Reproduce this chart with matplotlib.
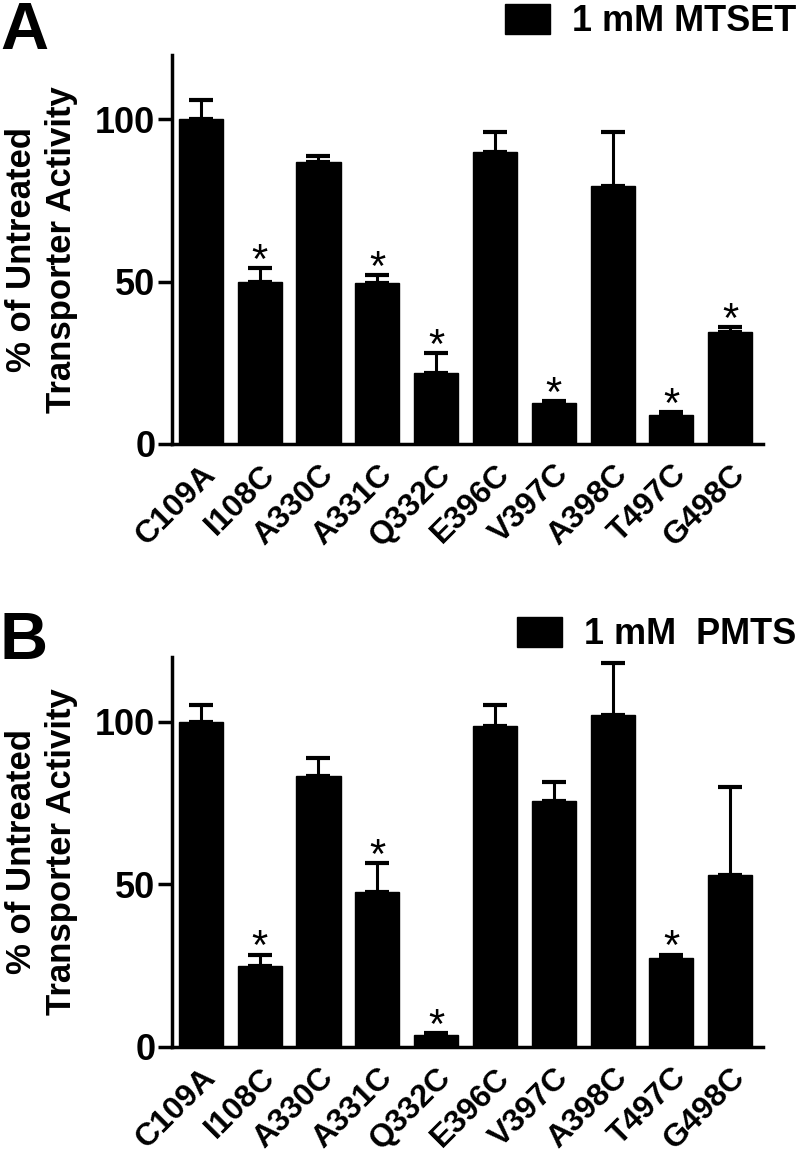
import numpy as np
import matplotlib.pyplot as plt
import matplotlib.transforms as mtransforms

plt.rcParams['font.family'] = ['Liberation Sans', 'DejaVu Sans']
plt.rcParams['font.weight'] = 'bold'

mutants = ['C109A', 'I108C', 'A330C', 'A331C', 'Q332C',
           'E396C', 'V397C', 'A398C', 'T497C', 'G498C']

# panel A, 1 mM MTSET
mtset_mean = [100, 50, 87, 49.5, 22, 90, 12.5, 79.5, 8.8, 34.5]
mtset_err = [6, 4.3, 1.6, 2.5, 6, 6, 0.8, 16.5, 1, 1.6]
mtset_sig = [False, True, False, True, True, False, True, False, True, True]

# panel B, 1 mM PMTS
pmts_mean = [100, 25, 83.4, 47.6, 3.6, 98.5, 75.5, 102, 27.4, 53]
pmts_err = [5, 3.4, 5.4, 9, 0.8, 6.5, 6, 16, 1, 27]
pmts_sig = [False, True, False, True, True, False, False, False, True, False]

ylabel = '% of Untreated\nTransporter Activity'


def draw_panel(ax, means, errs, sig, legend_text):
    x = np.arange(len(mutants))
    ax.bar(x, means, width=0.75, color='black', edgecolor='black',
           label=legend_text, zorder=2)
    ax.errorbar(x, means, yerr=[np.zeros(len(errs)), errs], fmt='none',
                ecolor='black', elinewidth=2.2, capsize=8.5, capthick=3,
                zorder=1)
    for xi, m, e, s in zip(x, means, errs, sig):
        if s:
            ax.text(xi, m + e - 1.5, '*', ha='center', va='baseline',
                    fontsize=30, fontweight='normal')
    ax.set_xlim(-0.49, 9.56)
    ax.set_ylim(0, 120)
    ax.set_yticks([0, 50, 100])
    ax.set_xticks(x)
    ax.set_xticklabels(mutants, rotation=45, ha='right',
                       rotation_mode='anchor', fontsize=23, fontweight='bold')
    shift = mtransforms.ScaledTranslation(0.06, 0, ax.figure.dpi_scale_trans)
    for lab in ax.get_xticklabels():
        lab.set_transform(lab.get_transform() + shift)
    ax.tick_params(axis='x', length=0, pad=11)
    ax.tick_params(axis='y', length=10, width=2.5, labelsize=26, pad=2)
    for lab in ax.get_yticklabels():
        lab.set_fontweight('bold')
    ax.spines['top'].set_visible(False)
    ax.spines['right'].set_visible(False)
    ax.spines['left'].set_linewidth(2.5)
    ax.spines['bottom'].set_linewidth(2.5)
    ax.set_ylabel(ylabel, fontsize=25, fontweight='bold', labelpad=12,
                  linespacing=1.3)


fig = plt.figure(figsize=(8, 11.62), dpi=100)
ax1 = fig.add_axes([0.215, 0.618, 0.739, 0.335])
ax2 = fig.add_axes([0.215, 0.099, 0.739, 0.336])

draw_panel(ax1, mtset_mean, mtset_err, mtset_sig, '1 mM MTSET')
draw_panel(ax2, pmts_mean, pmts_err, pmts_sig, '1 mM  PMTS')

for ax, anchor in [(ax1, (1.056, 1.131)), (ax2, (1.056, 1.102))]:
    ax.legend(loc='upper right', bbox_to_anchor=anchor,
              bbox_transform=ax.transAxes, frameon=False,
              prop={'size': 26, 'weight': 'bold'},
              borderpad=0, borderaxespad=0,
              handlelength=1.25, handleheight=0.9, handletextpad=0.6)

fig.text(0.0, 0.999, 'A', fontsize=48, fontweight='bold', va='top', ha='left')
fig.text(0.0, 0.474, 'B', fontsize=48, fontweight='bold', va='top', ha='left')

fig.savefig('out.png', dpi=100)
